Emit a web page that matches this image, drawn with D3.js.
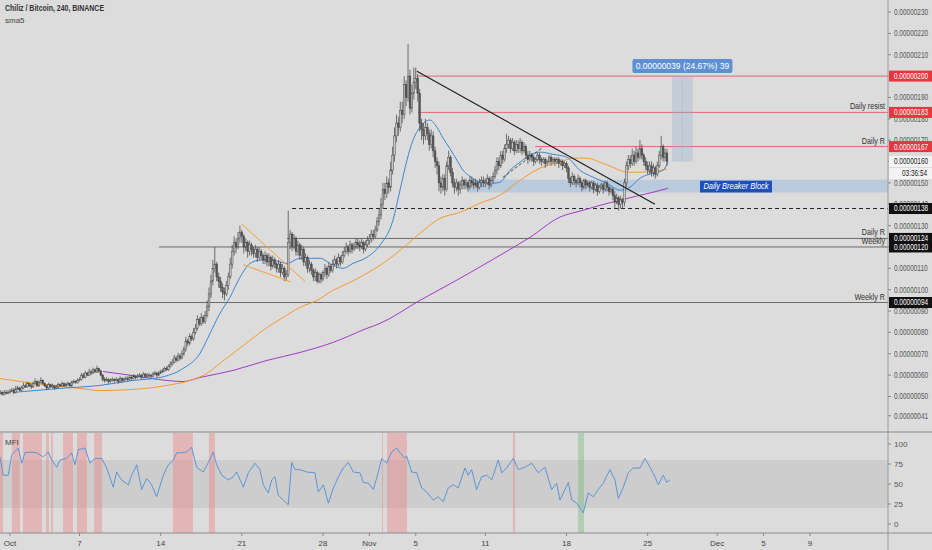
<!DOCTYPE html>
<html>
<head>
<meta charset="utf-8">
<script src="https://cdn.jsdelivr.net/npm/d3@7"></script>
<style>
  body { margin: 0; background: #dcdcdc; overflow: hidden; }
  svg text { font-family: "Liberation Sans", Arial, sans-serif; }
</style>
</head>
<body>
<div id="content"></div>
<script>
// ---- data (prices in satoshi, 1e-8 BTC) ----
const firstBar = Date.UTC(2019, 8, 30, 4);   // first 4h candle
const barMs = 4 * 3600 * 1000;

// 4h closes, one row per day (Sep 30 .. Nov 26)
const closes = [
  52,51,52,51.5,52,
  52.5,53,52,53.5,54,53,
  54,55,54.5,56,55,54.5,
  56,57,55,56.5,57.5,56,
  55,54,55.5,54.5,55,54,
  54.5,55.5,55,56,55,55.5,
  56,55,56.5,57,56.5,57.5,
  58,60,59,61,60,61.5,
  61,62.5,61.5,63,62,60,
  58,57.5,58,57,57.5,58,
  57.5,58,57,58.5,57.5,58,
  58.5,58,59,58.5,59.5,59,
  59.5,60,59,60.5,59.5,60,
  60,59.5,60.5,61,60,61,
  61.5,62,63,62.5,64,65,
  66,68,67,69,68,70,
  72,76,75,78,77,80,
  82,86,84,87,85,88,
  92,98,104,110,112,106,
  104,101,99,98,102,106,
  112,118,122,120,124,127,
  125,120,122,118,121,119,
  117,119,115,118,116,114,
  116,113,115,111,114,112,
  110,112,108,110,106,107,
  122,126,120,124,118,121,
  116,119,113,115,110,112,
  109,106,108,104,107,105,
  108,110,107,111,109,112,
  114,112,115,113,116,118,
  120,118,121,119,120,122,
  121,120,122,119,121,123,
  124,126,125,128,132,135,
  140,147,145,150,148,156,
  163,172,178,176,184,182,
  196,190,200,185,192,197,
  199,192,178,175,172,176,
  173,168,172,165,160,158,
  150,148,152,147,158,162,
  155,150,148,150,147,149,
  151,149,150,148,151,150,
  149,150,148,150,151,150,
  150,152,149,151,153,156,
  160,158,163,161,166,168,
  170,166,169,165,168,166,
  169,165,167,163,161,163,
  162,160,161,163,161,160,
  161,159,160,162,160,161,
  160,161,159,160,158,159,
  157,152,150,153,151,150,
  152,150,148,151,149,150,
  148,150,147,149,146,148,
  149,147,150,148,146,147,
  144,141,143,140,142,141,
  150,158,161,159,163,160,
  164,162,166,163,160,158,
  156,158,155,157,154,158,
  163,167,162,164,160
];

const highs = [
  53,52.5,53,53,53,
  53.5,54,54,55,55,54.5,
  55,56.5,56,57,56.5,56,
  57,58.5,57.5,57.5,59,58,
  56.5,55.5,56.5,56,56,55.5,
  55.5,56.5,56,57,56.5,56.5,
  57,56.5,57.5,58,57.5,58.5,
  59,61,61,62,61.5,63,
  62.5,63.5,63,64.5,63.5,62.5,
  60.5,59,59,58.5,58.5,59,
  58.5,59,58.5,59.5,59,59,
  59.5,59.5,60,60,60.5,60,
  60.5,61,60.5,61.5,61,61,
  61,60.5,61.5,62,61.5,62,
  62.5,63,64,64,65,66.5,
  67.5,69.5,69,70.5,70,71.5,
  73.5,78,77,79.5,79,82,
  84,88,87,89,88,90,
  95,101,107,114,120,113,
  108,106,103,101,104,108,
  115,121,125,124,127,130,
  128,126,124,123,123,122,
  120,121,120,120,119,117,
  118,117,117,116,116,115,
  113,114,113,112,111,109,
  137,128,127,126,125,123,
  122,121,120,117,116,114,
  113,110,110,109,108,108,
  109,112,111,113,112,114,
  116,115,117,116,118,120,
  122,121,123,122,122,124,
  124,123,124,123,123,125,
  126,128,128,130,134,138,
  143,150,150,153,152,160,
  167,176,182,181,188,188,
  200,198,215,203,196,204,
  204,201,194,180,178,180,
  178,175,175,174,167,162,
  160,153,154,154,160,165,
  163,157,152,152,151,151,
  153,152,152,151,153,153,
  152,152,151,152,153,153,
  152,154,153,153,155,158,
  162,162,165,165,168,173,
  172,171,171,170,170,170,
  171,170,169,168,165,165,
  164,163,162,164,164,162,
  162,162,161,163,163,162,
  162,162,162,161,161,160,
  160,158,153,155,154,152,
  154,153,151,152,152,151,
  151,151,151,150,150,149,
  150,150,151,151,149,148,
  148,146,145,144,144,143,
  152,160,163,163,166,165,
  167,166,170,168,164,162,
  160,160,160,159,158,160,
  165,172,168,166,166
];

const lows = [
  51,50.5,50.5,51,51,
  51.5,52,51,51.5,53,52.5,
  52.5,53.5,54,54,54.5,53.5,
  54,55.5,54.5,54.5,56,55.5,
  54.5,53,53.5,54,54,53,
  53.5,54,54.5,54.5,54.5,54.5,
  55,54.5,54.5,56,56,56,
  57,57.5,58.5,58.5,59.5,59.5,
  60,60.5,61,61,61,59.5,
  57,56.5,57,56,56.5,57,
  56.5,57,56,56.5,56.5,57,
  57.5,57,57.5,57.5,58,58,
  58.5,59,58,58.5,58.5,59,
  59,58.5,59,60,59,59.5,
  60.5,61,61.5,62,62,63.5,
  64.5,65.5,66,66.5,67,67.5,
  69,71,73.5,74,76,76,
  79,81,83,83,84,84,
  87,90,96,102,108,104,
  101,99,96,95,97,100,
  105,110,116,117,119,122,
  122,117,118,115,116,116,
  115,115,113,114,114,112,
  112,111,111,109,110,110,
  108,108,106,107,104,104,
  106,119,118,119,116,116,
  114,114,111,111,108,108,
  107,104,104,103,103,103,
  104,106,105,106,108,108,
  111,110,111,111,112,115,
  117,116,117,117,118,119,
  119,118,119,117,118,120,
  121,122,123,124,127,130,
  133,138,142,143,145,146,
  154,160,169,172,174,178,
  180,186,188,182,183,189,
  194,188,174,170,168,170,
  170,165,166,162,157,154,
  146,145,146,144,146,156,
  153,148,145,146,144,145,
  147,147,147,146,147,148,
  147,148,146,147,148,148,
  148,149,147,148,150,152,
  154,156,157,159,160,164,
  166,164,165,163,164,164,
  164,163,164,161,159,160,
  160,158,159,160,159,158,
  159,157,158,159,158,159,
  158,159,157,158,156,157,
  155,150,148,149,149,148,
  149,148,146,147,147,148,
  146,147,145,146,144,145,
  147,145,146,146,144,145,
  142,138,140,137,138,138,
  139,148,156,157,158,158,
  159,160,161,161,158,156,
  154,154,153,153,152,153,
  157,161,160,160,158
];

// moving averages: [days after Oct 1, price]
const smaBlue = [
  [0.26,51.9],[4.31,53.8],[7.76,55.2],[10.61,57.5],[12.94,58.9],[14.92,63.1],
  [16.39,70.2],[17.25,79.5],[18.11,88.9],[18.97,96.4],[19.84,105.8],[20.70,112.3],
  [21.56,113.8],[22.68,113.8],[23.89,112.3],[25.01,114.7],[26.74,114.7],[27.86,111.4],
  [28.72,110.0],[29.58,112.3],[30.79,115.2],[31.91,120.8],[33.03,132.5],[33.64,146.6],
  [34.24,160.6],[34.76,170.0],[35.36,176.0],[36.22,179.4],[36.83,176.0],[37.35,171.0],
  [37.95,166.0],[38.55,160.6],[39.07,156.0],[39.68,153.0],[40.54,150.3],[41.66,149.8],
  [42.26,150.3],[43.13,155.9],[43.99,159.7],[44.85,163.0],[45.71,164.4],[46.83,163.4],
  [48.04,162.0],[49.16,155.9],[50.28,152.7],[51.49,149.8],[52.61,146.6],[53.48,148.0],
  [54.34,152.2],[55.46,154.5],[56.32,155.9],[56.75,159.7]
];
const smaOrange = [
  [-0.86,58.4],[3.45,55.2],[6.04,53.8],[7.76,52.8],[10.61,53.3],[13.54,55.2],
  [15.53,57.5],[16.99,60.8],[18.11,65.5],[19.24,70.2],[20.70,76.3],[22.17,82.3],
  [23.55,87.0],[25.01,91.7],[26.48,95.0],[27.86,99.7],[29.33,103.4],[30.79,107.7],
  [31.91,111.4],[33.64,118.4],[35.36,126.4],[37.09,133.4],[38.81,136.2],[40.54,140.5],
  [42.26,144.2],[43.99,151.2],[45.71,156.9],[47.44,159.7],[48.56,161.6],[49.77,161.6],
  [50.89,159.7],[52.01,157.3],[53.22,155.0],[54.34,155.0],[55.46,155.5],[56.67,156.4]
];
const smaPurple = [
  [8.02,61.7],[10.61,59.8],[13.54,57.5],[14.92,57.0],[16.39,58.9],[19.24,62.2],
  [22.17,66.9],[25.01,70.6],[27.86,75.3],[30.79,81.9],[31.91,84.2],[35.36,95.0],
  [38.81,105.3],[42.26,116.1],[44.85,124.5],[47.44,134.0],[49.16,136.8],[50.89,139.5],
  [52.61,141.9],[54.34,144.2],[55.46,145.6],[56.75,147.5]
];

// MFI line: [days after Oct 1, value]
const mfi = [
  [-0.86,84],[-0.58,61],[-0.15,61],[0.14,86],[0.72,95],[1.01,76],[1.29,89],[1.73,90],
  [2.30,89],[2.87,84],[3.30,90],[3.59,80],[4.03,71],[4.31,80],[4.89,82],[5.32,89],
  [5.61,74],[5.89,93],[6.47,95],[6.90,76],[7.33,82],[7.91,82],[8.34,70],[8.91,46],
  [9.20,65],[9.63,55],[10.21,49],[10.49,61],[10.93,74],[11.36,43],[11.79,57],[12.22,49],
  [12.65,34],[13.23,61],[13.66,74],[14.09,80],[14.38,89],[14.81,89],[15.24,90],[15.67,96],
  [16.10,71],[16.68,65],[17.11,77],[17.54,90],[17.83,74],[18.26,61],[18.83,55],[19.26,59],
  [19.55,65],[20.13,46],[20.56,64],[21.13,76],[21.56,68],[21.85,49],[22.28,39],[22.57,55],
  [22.86,59],[23.14,36],[23.57,30],[24.00,24],[24.30,77],[24.58,68],[25.01,68],[25.59,65],
  [26.31,64],[26.59,40],[27.03,49],[27.46,26],[27.89,45],[28.32,59],[28.75,70],[29.18,77],
  [29.61,65],[30.19,64],[30.47,52],[30.91,51],[31.34,43],[31.77,65],[32.06,82],[32.49,76],
  [32.92,90],[33.35,95],[33.64,89],[34.07,82],[34.21,85],[34.65,65],[35.08,64],[35.51,45],
  [35.94,40],[36.51,30],[36.94,34],[37.37,28],[37.80,45],[38.24,49],[38.67,45],[39.24,70],
  [39.53,61],[39.82,68],[40.25,43],[40.68,59],[41.12,61],[41.55,55],[42.12,80],[42.41,64],
  [42.84,70],[43.41,82],[43.84,68],[44.42,71],[45.00,76],[45.57,64],[46.14,71],[46.72,43],
  [47.15,51],[47.44,30],[48.16,52],[48.45,30],[48.88,26],[49.45,14],[49.88,39],[50.31,34],
  [50.74,43],[51.17,51],[51.75,68],[52.18,55],[52.47,32],[52.90,46],[53.33,64],[53.76,70],
  [54.34,70],[54.77,82],[55.20,71],[55.63,59],[55.92,49],[56.35,61],[56.64,52],[56.93,55]
];
// MFI highlight columns: [start day, end day]
const mfiHot = [
  [-0.86,-0.6],[0.17,0.86],[1.12,2.76],[3.1,3.36],[3.54,3.71],[4.57,5.43],[5.78,6.64],
  [7.25,7.94],[14.06,15.78],[17.16,17.68],[32.09,32.17],[32.52,34.24],[43.38,43.56]
];
const mfiCold = [[48.99,49.51]];

// horizontal levels: price, start day, label
const redLevels = [[200, 35.1, ""], [183, 35.2, "Daily resist"], [167, 45.3, "Daily R"]];
const grayLevels = [[124, 23.9, "Daily R"], [120, 12.85, "Weekly"], [94, -0.86, "Weekly R"]];
const dashedLevel = [138, 24.33];

// drawings: [day, price] pairs
const trendLine = [[35.1, 202.3], [55.63, 140]];
const flagUpper = [[20.01, 130.6], [25.44, 103.9]];
const flagLower = [[20.12, 111.7], [24.24, 103.6]];
const dashTrend = [[42.52, 152.6], [45.97, 166.7]];
const breakerBlock = [39.5, 145.5, 151.5];
const measureBox = [57.1, 58.9, 160, 200];
const measureText = "0.00000039 (24.67%) 39";

const priceTicks = [230,220,210,200,190,180,170,160,150,140,130,120,110,100,90,80,70,60,50,41];
const mfiTicks = [100, 75, 50, 25, 0];
const timeTicks = [
  [Date.UTC(2019,9,1),"Oct"],[Date.UTC(2019,9,7),"7"],[Date.UTC(2019,9,14),"14"],
  [Date.UTC(2019,9,21),"21"],[Date.UTC(2019,9,28),"28"],[Date.UTC(2019,10,1),"Nov"],
  [Date.UTC(2019,10,5),"5"],[Date.UTC(2019,10,11),"11"],[Date.UTC(2019,10,18),"18"],
  [Date.UTC(2019,10,25),"25"],[Date.UTC(2019,11,1),"Dec"],[Date.UTC(2019,11,5),"5"],
  [Date.UTC(2019,11,9),"9"]
];

// tags on the price scale
const redTags = [200, 183, 167];
const blackTags = [138, 124, 120, 94];
const lastPrice = 160;
const countdown = "03:36:54";

// ---- layout ----
const width = 932, height = 550;
const plotRight = 888;
const base = Date.UTC(2019, 9, 1);
function day(d) { return new Date(base + d * 864e5); }

const x = d3.scaleUtc().domain([day(-0.86), day(75.73)]).range([0, plotRight]);
const y = d3.scaleLinear().domain([50, 230]).range([396.5, 12]);
const yMfi = d3.scaleLinear().domain([0, 100]).range([524, 444]);
const fmt = v => d3.format(".8f")(v / 1e8);

// squeeze text horizontally around its x anchor (chart font is narrow)
function condense(sel, k) {
    sel.each(function() {
        const t = d3.select(this), x0 = +t.attr("x");
        t.attr("transform", `translate(${x0},0) scale(${k},1) translate(${-x0},0)`);
    });
}

const svg = d3.select("#content").append("svg")
    .attr("width", width).attr("height", height);

svg.append("rect").attr("width", width).attr("height", height).attr("fill", "#dcdcdc");

const main = svg.append("g");
svg.append("clipPath").attr("id", "cm")
    .append("rect").attr("x", 0).attr("y", 0).attr("width", plotRight).attr("height", 431);
main.attr("clip-path", "url(#cm)");

// ---- MFI pane ----
const pane = svg.append("g");
pane.append("rect")
    .attr("x", 0).attr("width", plotRight)
    .attr("y", yMfi(80)).attr("height", yMfi(20) - yMfi(80))
    .attr("fill", "#cdcdcd");

pane.selectAll("rect.hot").data(mfiHot).enter().append("rect")
    .attr("class", "hot")
    .attr("x", d => Math.max(0, x(day(d[0]))))
    .attr("width", d => x(day(d[1])) - Math.max(0, x(day(d[0]))))
    .attr("y", 433).attr("height", 100)
    .attr("fill", "rgba(236,120,120,0.38)");
pane.selectAll("rect.cold").data(mfiCold).enter().append("rect")
    .attr("class", "cold")
    .attr("x", d => x(day(d[0])))
    .attr("width", d => x(day(d[1])) - x(day(d[0])))
    .attr("y", 433).attr("height", 100)
    .attr("fill", "rgba(100,180,100,0.35)");

pane.append("path")
    .datum(mfi)
    .attr("d", d3.line().x(d => x(day(d[0]))).y(d => yMfi(d[1])))
    .attr("fill", "none").attr("stroke", "#4f8fd8").attr("stroke-width", 0.9);

pane.append("text").attr("x", 5).attr("y", 445)
    .attr("font-size", 8).attr("fill", "#444").text("MFI");

// ---- main pane: zones and levels ----
main.append("rect")
    .attr("x", x(day(breakerBlock[0])))
    .attr("width", plotRight - x(day(breakerBlock[0])))
    .attr("y", y(breakerBlock[2]))
    .attr("height", y(breakerBlock[1]) - y(breakerBlock[2]))
    .attr("fill", "rgba(140,180,220,0.45)");

main.selectAll("line.red").data(redLevels).enter().append("line")
    .attr("x1", d => x(day(d[1]))).attr("x2", plotRight)
    .attr("y1", d => y(d[0])).attr("y2", d => y(d[0]))
    .attr("stroke", "#e06770").attr("stroke-width", 1);

main.selectAll("line.gray").data(grayLevels).enter().append("line")
    .attr("x1", d => Math.max(0, x(day(d[1])))).attr("x2", plotRight)
    .attr("y1", d => y(d[0])).attr("y2", d => y(d[0]))
    .attr("stroke", "#6a6a6a").attr("stroke-width", 1);

main.append("line")
    .attr("x1", x(day(dashedLevel[1]))).attr("x2", plotRight)
    .attr("y1", y(dashedLevel[0])).attr("y2", y(dashedLevel[0]))
    .attr("stroke", "#222").attr("stroke-width", 1).attr("stroke-dasharray", "4,3");

// ---- moving averages ----
const maLine = d3.line().x(d => x(day(d[0]))).y(d => y(d[1])).curve(d3.curveMonotoneX);
[[smaPurple, "#a23bc4"], [smaOrange, "#f29a2e"], [smaBlue, "#3b86d0"]].forEach(function(s) {
    main.append("path").datum(s[0]).attr("d", maLine)
        .attr("fill", "none").attr("stroke", s[1]).attr("stroke-width", 1);
});

// ---- candles ----
const candles = closes.map(function(c, i) {
    const o = i === 0 ? c : closes[i - 1];
    return { t: new Date(firstBar + i * barMs), o: o, c: c,
             h: Math.max(highs[i], o, c), l: Math.min(lows[i], o, c) };
});
const cg = main.append("g");
cg.selectAll("line").data(candles).enter().append("line")
    .attr("x1", d => x(d.t)).attr("x2", d => x(d.t))
    .attr("y1", d => y(d.h)).attr("y2", d => y(d.l))
    .attr("stroke", "#474747").attr("stroke-width", 0.75);
cg.selectAll("rect").data(candles).enter().append("rect")
    .attr("x", d => x(d.t) - 0.85).attr("width", 1.7)
    .attr("y", d => y(Math.max(d.o, d.c)))
    .attr("height", d => Math.max(0.8, Math.abs(y(d.o) - y(d.c))))
    .attr("fill", d => d.c >= d.o ? "#c6c6c6" : "#585858")
    .attr("stroke", "#404040").attr("stroke-width", 0.45);

// ---- drawings ----
function seg(pts, color, w, dash) {
    const l = main.append("line")
        .attr("x1", x(day(pts[0][0]))).attr("y1", y(pts[0][1]))
        .attr("x2", x(day(pts[1][0]))).attr("y2", y(pts[1][1]))
        .attr("stroke", color).attr("stroke-width", w);
    if (dash) l.attr("stroke-dasharray", dash);
}
seg(trendLine, "#1a1a1a", 1.1);
seg(flagUpper, "#f2a033", 1);
seg(flagLower, "#f2a033", 1);
seg(dashTrend, "#222", 0.8, "3,2");

// measure tool
const mx0 = x(day(measureBox[0])), mx1 = x(day(measureBox[1]));
const mxc = (mx0 + mx1) / 2;
main.append("rect")
    .attr("x", mx0).attr("width", mx1 - mx0)
    .attr("y", y(measureBox[3])).attr("height", y(measureBox[2]) - y(measureBox[3]))
    .attr("fill", "rgba(150,175,205,0.35)");
main.append("line")
    .attr("x1", mxc).attr("x2", mxc)
    .attr("y1", y(measureBox[3]) + 2).attr("y2", y(measureBox[2]))
    .attr("stroke", "#9fb3cc").attr("stroke-width", 0.8).attr("stroke-dasharray", "1,1.5");
main.append("rect")
    .attr("x", mxc - 50).attr("y", y(measureBox[3]) - 17)
    .attr("width", 100).attr("height", 14).attr("rx", 2)
    .attr("fill", "#5e8fd3");
main.append("text")
    .attr("x", mxc).attr("y", y(measureBox[3]) - 7)
    .attr("text-anchor", "middle").attr("font-size", 8.5).attr("fill", "#fff")
    .text(measureText);

// breaker block label
main.append("rect")
    .attr("x", 700).attr("y", y(breakerBlock[2]) + 1)
    .attr("width", 72).attr("height", y(breakerBlock[1]) - y(breakerBlock[2]) - 1)
    .attr("fill", "#1f4fbf");
main.append("text")
    .attr("x", 736).attr("y", y(breakerBlock[1]) - 3)
    .attr("text-anchor", "middle").attr("font-size", 8.5).attr("font-style", "italic")
    .attr("fill", "#fff").text("Daily Breaker Block")
    .call(condense, 0.88);

// level labels
const levelLabels = redLevels.concat(grayLevels).filter(d => d[2] !== "");
svg.selectAll("text.lvl").data(levelLabels).enter().append("text")
    .attr("class", "lvl")
    .attr("x", plotRight - 3).attr("y", d => y(d[0]) - 3)
    .attr("text-anchor", "end").attr("font-size", 9).attr("fill", "#333")
    .text(d => d[2])
    .call(condense, 0.8);

// ---- frame ----
svg.append("line").attr("x1", 0).attr("x2", width).attr("y1", 432).attr("y2", 432)
    .attr("stroke", "#a4a4a4").attr("stroke-width", 1.5);
svg.append("line").attr("x1", 0).attr("x2", width).attr("y1", 533).attr("y2", 533)
    .attr("stroke", "#8c8c8c").attr("stroke-width", 1);
svg.append("line").attr("x1", plotRight).attr("x2", plotRight).attr("y1", 0).attr("y2", height)
    .attr("stroke", "#9a9a9a").attr("stroke-width", 1);

// price axis
const pa = svg.append("g");
pa.selectAll("line").data(priceTicks).enter().append("line")
    .attr("x1", plotRight).attr("x2", plotRight + 3)
    .attr("y1", d => y(d)).attr("y2", d => y(d)).attr("stroke", "#888");
pa.selectAll("text").data(priceTicks).enter().append("text")
    .attr("x", plotRight + 6).attr("y", d => y(d)).attr("dy", "0.35em")
    .attr("font-size", 8.5).attr("fill", "#555").text(fmt)
    .call(condense, 0.76);

// mfi axis
const ma = svg.append("g");
ma.selectAll("line").data(mfiTicks).enter().append("line")
    .attr("x1", plotRight).attr("x2", plotRight + 3)
    .attr("y1", d => yMfi(d)).attr("y2", d => yMfi(d)).attr("stroke", "#888");
ma.selectAll("text").data(mfiTicks).enter().append("text")
    .attr("x", plotRight + 6).attr("y", d => yMfi(d)).attr("dy", "0.35em")
    .attr("font-size", 8).attr("fill", "#555").text(d => d);

// time axis
const ta = svg.append("g");
ta.selectAll("line").data(timeTicks).enter().append("line")
    .attr("x1", d => x(new Date(d[0]))).attr("x2", d => x(new Date(d[0])))
    .attr("y1", 533).attr("y2", 536).attr("stroke", "#888");
ta.selectAll("text").data(timeTicks).enter().append("text")
    .attr("x", d => x(new Date(d[0]))).attr("y", 546)
    .attr("text-anchor", "middle").attr("font-size", 8).attr("fill", "#444")
    .text(d => d[1]);

// price tags
function tag(price, bg, fg, text, dy, tx) {
    const yy = y(price) + (dy || 0);
    svg.append("rect").attr("x", plotRight + 1).attr("y", yy - 5.5)
        .attr("width", width - plotRight - 1).attr("height", 11).attr("fill", bg);
    svg.append("text").attr("x", tx || plotRight + 6).attr("y", yy).attr("dy", "0.35em")
        .attr("font-size", 8.5).attr("fill", fg).text(text)
        .call(condense, 0.76);
}
redTags.forEach(p => tag(p, "#e8363f", "#fff", fmt(p)));
blackTags.forEach(p => tag(p, "#111", "#fff", fmt(p)));
tag(lastPrice, "#f3f3f3", "#222", fmt(lastPrice));
tag(lastPrice, "#f3f3f3", "#222", countdown, 12, 902);

// title
svg.append("text").attr("x", 5).attr("y", 11)
    .attr("font-size", 8.5).attr("font-weight", "bold").attr("fill", "#333")
    .text("Chiliz / Bitcoin, 240, BINANCE")
    .call(condense, 0.82);
svg.append("text").attr("x", 5).attr("y", 23)
    .attr("font-size", 8).attr("fill", "#444").text("sma5");
</script>
</body>
</html>
